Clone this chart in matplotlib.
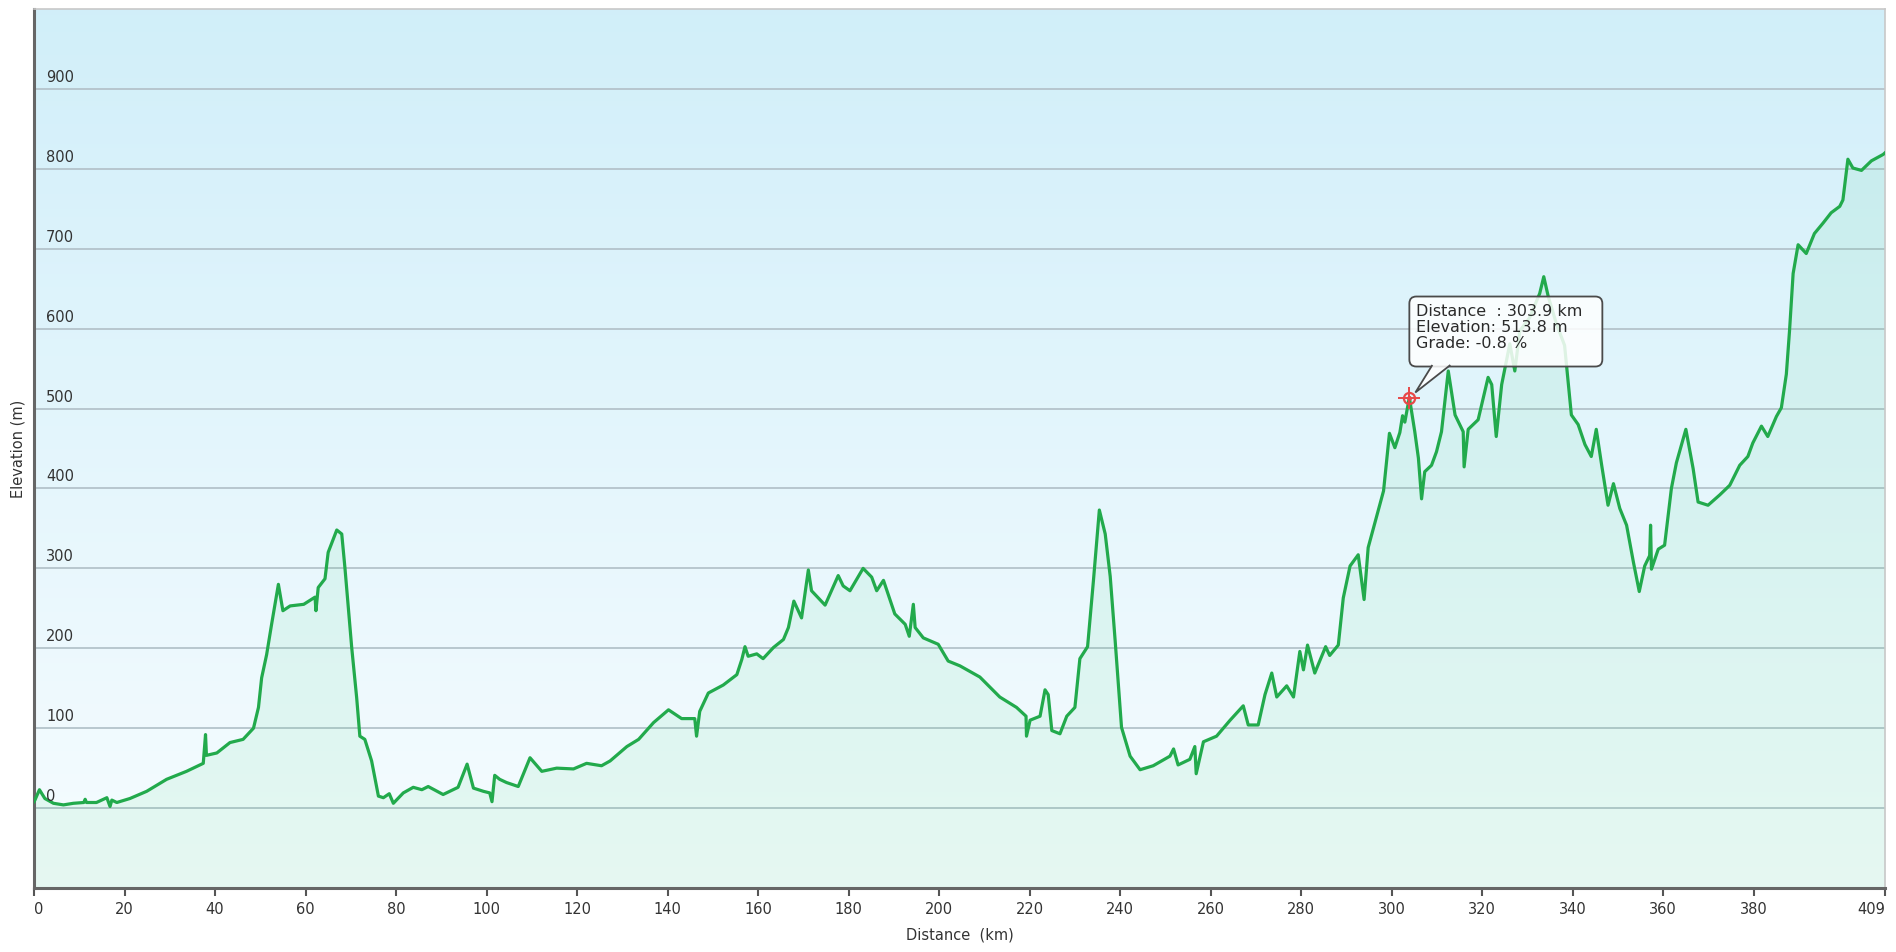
import numpy as np
import matplotlib.pyplot as plt
import matplotlib.transforms as mtransforms
from matplotlib.patches import FancyBboxPatch, Polygon

plt.rcParams['font.family'] = ['DejaVu Sans']

# elevation profile
dist_km = [
    0.0, 0.2, 1.2, 2.4, 4.3, 6.5, 8.7, 11.0, 11.3, 11.6, 13.8, 16.1, 16.8, 17.2, 18.3,
    21.2, 24.9, 29.3, 33.7, 37.4, 37.9, 38.1, 40.4, 43.3, 46.2, 48.5, 49.6, 50.3,
    51.4, 52.5, 54.0, 55.0, 56.6, 59.6, 62.1, 62.3, 62.8, 64.3, 65.0, 66.9, 68.0,
    68.7, 70.2, 71.3, 72.0, 73.1, 74.6, 76.1, 77.2, 78.5, 79.4, 81.6, 83.8, 85.7,
    87.1, 90.4, 93.7, 95.7, 97.1, 99.3, 100.7, 101.2, 101.8, 102.9, 104.4, 107.0,
    109.6, 112.2, 115.5, 119.2, 122.1, 125.4, 127.3, 131.0, 133.6, 136.9, 140.2,
    143.1, 146.0, 146.4, 147.1, 149.0, 152.3, 155.3, 156.4, 157.1, 157.8, 159.7,
    161.1, 163.4, 165.6, 166.7, 167.9, 169.6, 171.1, 171.8, 174.8, 177.7, 178.8,
    180.3, 183.2, 185.1, 186.2, 187.7, 190.2, 192.5, 193.4, 194.3, 194.7, 196.5,
    199.8, 202.0, 204.6, 209.0, 213.4, 217.1, 219.2, 219.3, 220.1, 222.3, 223.4,
    224.1, 224.9, 226.7, 228.2, 230.0, 231.1, 232.8, 234.1, 235.4, 236.7, 237.8,
    238.9, 240.3, 242.2, 244.4, 247.3, 251.0, 251.8, 252.8, 255.4, 256.5, 256.8,
    258.4, 261.3, 264.3, 267.2, 268.3, 270.5, 272.0, 273.5, 274.6, 276.8, 278.3,
    279.7, 280.5, 281.4, 283.0, 285.4, 286.3, 288.2, 289.3, 290.8, 292.6, 293.9,
    294.8, 298.2, 299.5, 300.7, 301.8, 302.4, 302.9, 303.9, 305.1, 305.9, 306.6,
    307.3, 308.8, 309.9, 311.0, 312.5, 314.0, 315.8, 316.0, 316.9, 319.1, 321.3,
    322.1, 323.1, 324.3, 326.1, 327.2, 328.3, 330.5, 332.7, 333.6, 334.6, 336.4,
    338.2, 339.7, 341.2, 342.7, 344.1, 345.2, 346.4, 347.8, 349.0, 350.4, 351.9,
    353.4, 354.7, 355.9, 357.0, 357.2, 357.4, 358.9, 360.3, 361.8, 362.9, 365.0,
    366.6, 367.7, 369.9, 372.5, 374.7, 376.9, 378.7, 379.8, 381.7, 383.1, 385.0,
    386.1, 387.2, 387.9, 388.7, 389.8, 391.6, 393.4, 395.3, 397.1, 399.0, 399.7,
    400.8, 401.9, 403.8, 406.0, 408.6, 409.0,
]
elev_m = [
    8, 10, 23, 12, 6, 4, 6, 7, 11, 7, 7, 13, 2, 10, 7,
    12, 21, 36, 46, 56, 92, 66, 69, 82, 86, 100, 126, 163,
    192, 230, 280, 247, 253, 255, 264, 247, 276, 287, 320, 348, 343,
    301, 201, 138, 90, 86, 59, 15, 13, 18, 6, 19, 26, 23,
    27, 17, 26, 55, 25, 21, 19, 8, 41, 36, 32, 27,
    63, 46, 50, 49, 56, 53, 59, 77, 86, 107, 123,
    112, 112, 90, 121, 144, 154, 167, 186, 202, 190, 193,
    187, 201, 211, 226, 259, 238, 298, 272, 254, 291, 278,
    272, 300, 289, 272, 285, 243, 230, 215, 255, 226, 213,
    205, 184, 178, 164, 139, 126, 115, 90, 110, 115, 148,
    142, 97, 93, 115, 126, 187, 202, 285, 373, 343, 290,
    209, 101, 65, 48, 53, 65, 74, 54, 61, 77, 43,
    83, 90, 110, 128, 104, 104, 142, 169, 139, 153, 139,
    196, 173, 204, 169, 202, 191, 204, 263, 303, 317, 261,
    326, 397, 469, 451, 470, 491, 483, 514, 471, 438, 387,
    421, 429, 446, 471, 547, 492, 471, 427, 474, 486, 539,
    530, 465, 530, 581, 547, 597, 614, 644, 665, 640, 606,
    579, 492, 480, 455, 440, 474, 429, 379, 406, 375, 354,
    308, 271, 303, 316, 354, 299, 324, 329, 400, 432, 474,
    425, 383, 379, 392, 404, 429, 440, 457, 478, 465, 490,
    501, 543, 597, 669, 705, 694, 719, 732, 745, 753, 761,
    812, 801, 798, 810, 818, 820,
]

x_ticks = [0, 20, 40, 60, 80, 100, 120, 140, 160, 180, 200, 220, 240, 260, 280,
           300, 320, 340, 360, 380, 409]
y_ticks = [0, 100, 200, 300, 400, 500, 600, 700, 800, 900]

hover_km = 303.9
hover_elev = 513.8
hover_grade = -0.8

line_color = '#22aa4c'
text_color = '#333333'

fig = plt.figure(figsize=(18.96, 9.52), dpi=100)
ax = fig.add_axes([34 / 1896, 64 / 952, 1851 / 1896, 879 / 952])
ax.set_xlim(0, 409)
ax.set_ylim(-100, 1000)

# background gradient: light blue on top fading to near white at the bottom
top = np.array([0.820, 0.937, 0.978])
bottom = np.array([0.968, 0.990, 1.0])
t = np.linspace(0, 1, 256)[:, None]
grad = (top * (1 - t) + bottom * t)[:, None, :]
ax.imshow(grad, extent=[0, 1, 0, 1], transform=ax.transAxes,
          aspect='auto', zorder=0, interpolation='bicubic')

for v in y_ticks:
    ax.axhline(v, color='#b4c3cb', lw=1.3, zorder=1)

ax.fill_between(dist_km, elev_m, -100, color='#3ccf78', alpha=0.09,
                lw=0, zorder=2)
ax.plot(dist_km, elev_m, color=line_color, lw=2.3, zorder=3,
        solid_joinstyle='round')

# y labels sit inside the plot, just above their grid line
trans = mtransforms.blended_transform_factory(ax.transAxes, ax.transData)
for v in y_ticks:
    ax.annotate(str(v), xy=(0, v), xycoords=trans, xytext=(12, 4),
                textcoords='offset pixels', ha='left', va='bottom',
                fontsize=10.5, color=text_color, zorder=4)
ax.set_yticks([])

ax.set_xticks(x_ticks)
ax.set_xticklabels([str(v) for v in x_ticks], fontsize=10.5, color=text_color)
ax.tick_params(axis='x', direction='out', length=6, width=1.5,
               color='#555555', pad=4)
xlabels = ax.get_xticklabels()
xlabels[0].set_ha('left')
xlabels[-1].set_ha('right')

for side in ['left', 'bottom']:
    ax.spines[side].set_color('#666666')
    ax.spines[side].set_linewidth(2.2)
for side in ['top', 'right']:
    ax.spines[side].set_color('#c8c8c8')
    ax.spines[side].set_linewidth(1.2)

ax.set_xlabel('Distance  (km)', fontsize=10.5, color=text_color, labelpad=8)
ax.set_ylabel('Elevation (m)', fontsize=10.5, color=text_color, labelpad=6)

# hover tooltip, laid out in pixels relative to the hovered point
px, py = ax.transData.transform((hover_km, hover_elev))
tip = mtransforms.Affine2D().translate(px, py)
box = FancyBboxPatch((0, 31), 193, 70, boxstyle='round,pad=0,rounding_size=7',
                     fc=(1, 1, 1, 0.85), ec='#4a4a4a', lw=1.3, transform=tip,
                     zorder=6)
ax.add_patch(box)
pointer = Polygon([(23, 32.5), (6, 5), (41, 32.5)], closed=False,
                  fc=(1, 1, 1, 0.85), ec='#4a4a4a', lw=1.3, transform=tip,
                  zorder=6.5)
ax.add_patch(pointer)
label = ('Distance  : %.1f km\nElevation: %.1f m\nGrade: %.1f %%'
         % (hover_km, hover_elev, hover_grade))
ax.text(7, 94, label, transform=tip, ha='left', va='top', fontsize=11.5,
        color='#2a2a2a', linespacing=1.12, zorder=7)

ax.plot([hover_km], [hover_elev], marker='o', ms=8, mfc='none', mec='#e84848',
        mew=1.6, zorder=7)
ax.plot([hover_km], [hover_elev], marker='+', ms=16, mec='#e84848',
        mew=1.4, zorder=7)
ax.plot([hover_km], [hover_elev], marker='o', ms=2.5, mfc='#e84848',
        mec='#e84848', zorder=7)

fig.savefig('out.png', dpi=100)
